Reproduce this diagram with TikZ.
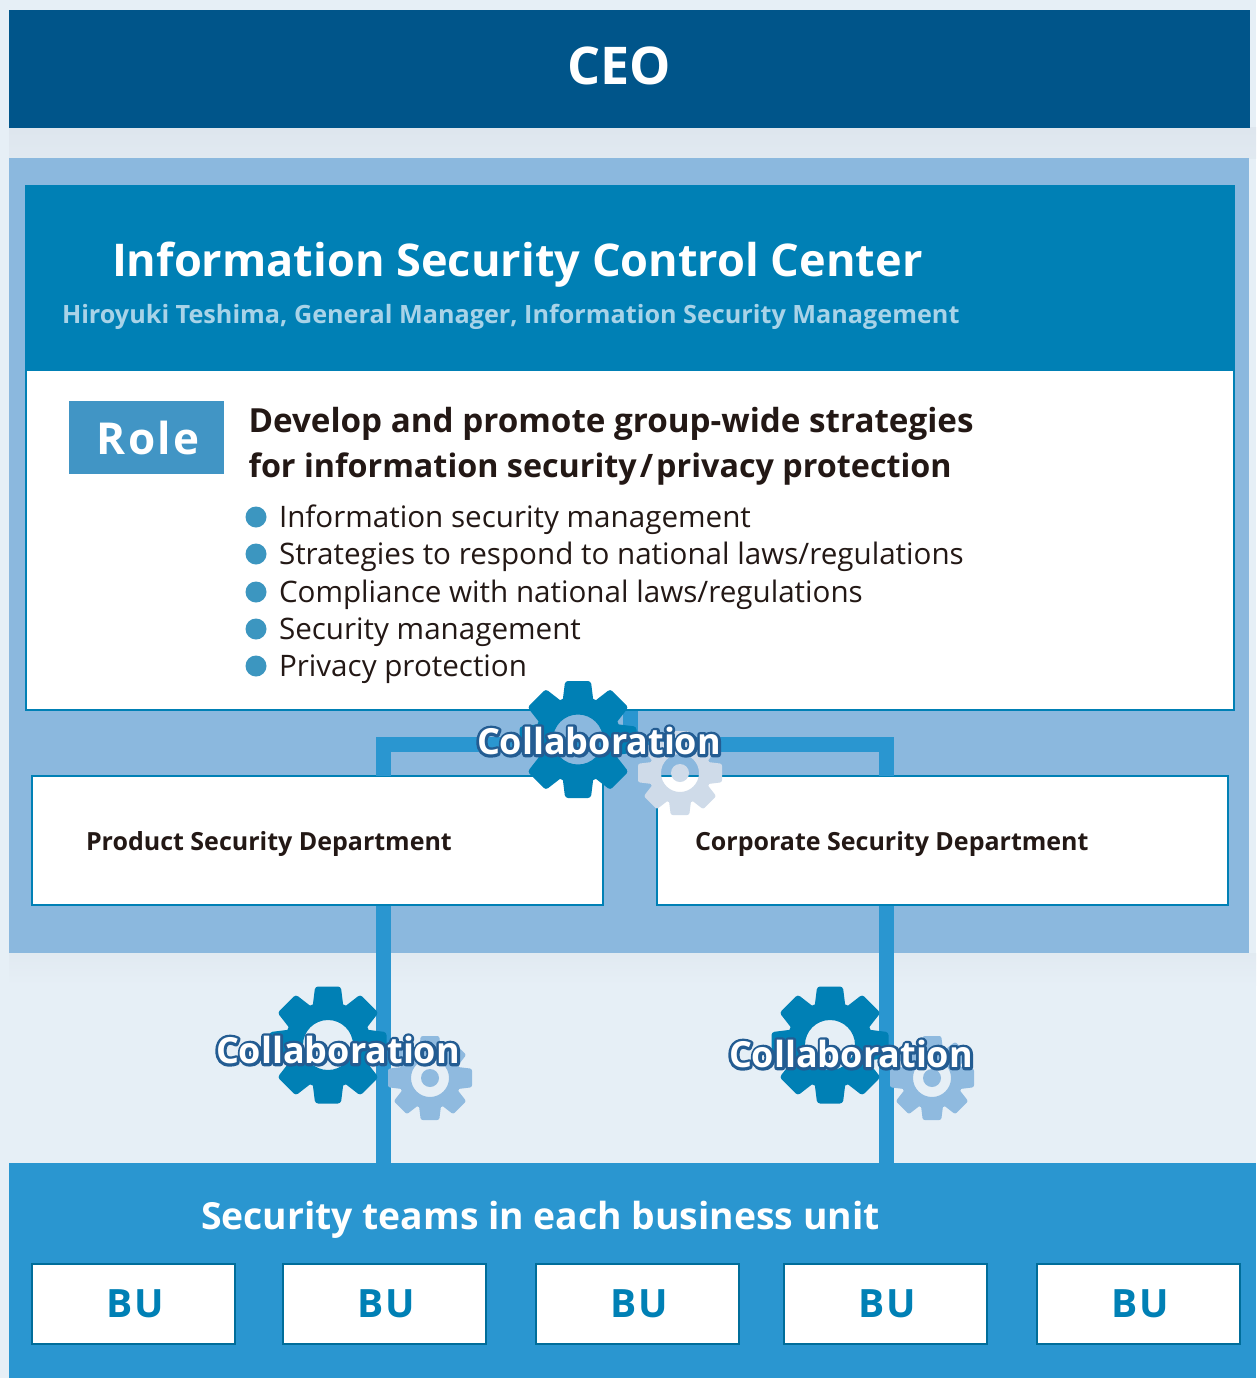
\documentclass[tikz,border=0pt]{standalone}
\usepackage{fontspec}
\setmainfont{Open Sans}
\newfontfamily\spacedfont[LetterSpace=5]{Open Sans}
\usetikzlibrary{calc}
\definecolor{ceoblue}{HTML}{00558A}
\definecolor{panelblue}{HTML}{8BB8DE}
\definecolor{headblue}{HTML}{0080B5}
\definecolor{rolebox}{HTML}{4195C5}
\definecolor{bulletblue}{HTML}{3C96C0}
\definecolor{linkblue}{HTML}{2A96D0}
\definecolor{pagebg}{HTML}{E6EFF6}
\definecolor{shadowbg}{HTML}{DEE6EE}
\definecolor{subtext}{HTML}{A8D3E8}
\definecolor{inktext}{HTML}{231815}
\definecolor{paleGear}{HTML}{CFDBE9}
\definecolor{midGear}{HTML}{8FBADF}
\newcommand{\fs}[1]{\fontsize{#1}{#1}\selectfont}
% white letters with a dark outline outside them
\newcommand{\outlined}[1]{\rlap{\special{pdf:code 2 Tr 5.6 w 1 j 0.137 0.361 0.573 RG 0.137 0.361 0.573 rg}#1\special{pdf:code 0 Tr 1 w 0 j 1 1 1 rg}}#1}
\tikzset{
  lbl/.style={inner sep=0pt,outer sep=0pt,anchor=base west},
  whitebox/.style={draw=headblue,line width=1.6pt,fill=white,inner sep=0pt,outer sep=0pt,anchor=north west},
  bubox/.style={draw=headblue!85!black,line width=2pt,fill=white,inner sep=0pt,outer sep=0pt,minimum width=203pt,minimum height=80pt,anchor=north west,
     text=headblue,font=\spacedfont\fs{39}\bfseries},
  link/.style={draw=linkblue,line width=15pt},
  dot/.style={circle,fill=bulletblue,minimum size=21pt,inner sep=0pt,outer sep=0pt},
  collab/.style={inner sep=0pt,outer sep=0pt,text=white,font=\fs{36}\bfseries},
}
% gear: centre x, centre y, outer radius, colour, hole radius, centre-dot radius
\newcommand{\gear}[6]{%
 \begin{scope}[shift={(#1,#2)}]
  \fill[#4,even odd rule] (0,0) circle (0.74*#3) (0,0) circle (#5);
  \foreach \a in {0,45,...,315}{
    \fill[#4,rounded corners=0.05*#3,rotate=\a] (-0.27*#3,0.6*#3) -- (-0.22*#3,1.0*#3) -- (0.22*#3,1.0*#3) -- (0.27*#3,0.6*#3) -- cycle;
  }
  \ifdim#6pt>0pt \fill[#4] (0,0) circle (#6); \fi
 \end{scope}}
\begin{document}
\begin{tikzpicture}[x=1pt,y=-1pt]
\useasboundingbox (0,0) rectangle (1256,1378);
\fill[pagebg] (0,0) rectangle (1256,1378);
\shade[top color=shadowbg,bottom color=shadowbg!70!pagebg] (9,128) rectangle (1256,158);
\shade[top color=shadowbg!60!pagebg,bottom color=pagebg] (9,953) rectangle (1256,985);
% CEO
\node[fill=ceoblue,minimum width=1241pt,minimum height=118pt,inner sep=0pt,outer sep=0pt,anchor=north west] (ceo) at (9,10) {};
\node[inner sep=0pt,text=white,font=\fs{52}\bfseries] (ceotxt) at (619,66) {CEO};
% panel
\node[fill=panelblue,minimum width=1240pt,minimum height=795pt,inner sep=0pt,outer sep=0pt,anchor=north west] (panel) at (9,158) {};
% header
\node[fill=headblue,minimum width=1210pt,minimum height=186pt,inner sep=0pt,outer sep=0pt,anchor=north west] (head) at (25,185) {};
\node[lbl,text=white,font=\fs{45.1}\bfseries] (title) at (112,276) {Information Security Control Center};
\node[lbl,text=subtext,font=\fs{25.2}\bfseries] (sub) at (62,323) {Hiroyuki Teshima, General Manager, Information Security Management};
% role box
\node[whitebox,minimum width=1208pt,minimum height=339.5pt] (rolepanel) at (26,370.5) {};
\node[fill=rolebox,text=white,minimum width=155pt,minimum height=73pt,inner sep=0pt,outer sep=0pt,anchor=north west,font=\spacedfont\fs{44}\bfseries] (role) at (69,401) {\kern3pt Role};
\node[lbl,text=inktext,font=\fs{33.2}\bfseries] (l1) at (248.5,432) {Develop and promote group-wide strategies};
\node[lbl,text=inktext,font=\fs{32.3}\bfseries] (l2) at (248.5,477) {for information security\kern3pt/\kern3pt privacy protection};
\node[dot] (d1) at (256,517) {};
\node[dot] (d2) at (256,554) {};
\node[dot] (d3) at (256,592) {};
\node[dot] (d4) at (256,629) {};
\node[dot] (d5) at (256,666) {};
\node[lbl,text=inktext,font=\fs{29.6}] (b1) at (279,527) {Information security management};
\node[lbl,text=inktext,font=\fs{29.6}] (b2) at (279,564) {Strategies to respond to national laws/regulations};
\node[lbl,text=inktext,font=\fs{29.6}] (b3) at (279,602) {Compliance with national laws/regulations};
\node[lbl,text=inktext,font=\fs{29.6}] (b4) at (279,639) {Security management};
\node[lbl,text=inktext,font=\fs{29.6}] (b5) at (279,676) {Privacy protection};
% departments
\node[whitebox,minimum width=571pt,minimum height=129pt] (prod) at (32,776) {};
\node[whitebox,minimum width=571pt,minimum height=129pt] (corp) at (657,776) {};
\node[lbl,text=inktext,font=\fs{25}\bfseries] (prodt) at (86,850) {Product Security Department};
\node[lbl,text=inktext,font=\fs{25}\bfseries] (corpt) at (695,850) {Corporate Security Department};
% teams
\node[fill=linkblue,minimum width=1247pt,minimum height=215pt,inner sep=0pt,outer sep=0pt,anchor=north west] (teams) at (9,1163) {};
\node[lbl,text=white,font=\fs{37.3}\bfseries] (teamt) at (201,1229) {Security teams in each business unit};
\node[bubox] (bu1) at (32,1264) {\kern3pt BU};
\node[bubox] (bu2) at (283,1264) {\kern3pt BU};
\node[bubox] (bu3) at (536,1264) {\kern3pt BU};
\node[bubox] (bu4) at (784,1264) {\kern3pt BU};
\node[bubox] (bu5) at (1037,1264) {\kern3pt BU};
% connectors
\coordinate (pu) at (383.5,776);
\coordinate (cu) at (886.5,776);
\coordinate (pd) at (383.5,906);
\coordinate (cd) at (886.5,906);
\coordinate (pt) at (383.5,1163);
\coordinate (ct) at (886.5,1163);
\coordinate (rs) at (630,711);
\coordinate (hj) at (630,745);
\draw[link] (pu) -- (383.5,744.5) -- (886.5,744.5) -- (cu);
\draw[link] (rs) -- (hj);
\draw[link] (pd) -- (pt);
\draw[link] (cd) -- (ct);
% gears
\gear{680}{773}{42}{paleGear}{19}{9}
\gear{578}{739.5}{58.5}{headblue}{25}{0}
\gear{430}{1078}{42}{midGear}{19}{9}
\gear{328}{1045}{58.5}{headblue}{25}{0}
\gear{932}{1078}{42}{midGear}{19}{9}
\gear{830}{1045}{58.5}{headblue}{25}{0}
\node[collab] (c1) at (599,741) {\outlined{Collaboration}};
\node[collab] (c2) at (338,1050) {\outlined{Collaboration}};
\node[collab] (c3) at (851,1054) {\outlined{Collaboration}};
\end{tikzpicture}
\end{document}
